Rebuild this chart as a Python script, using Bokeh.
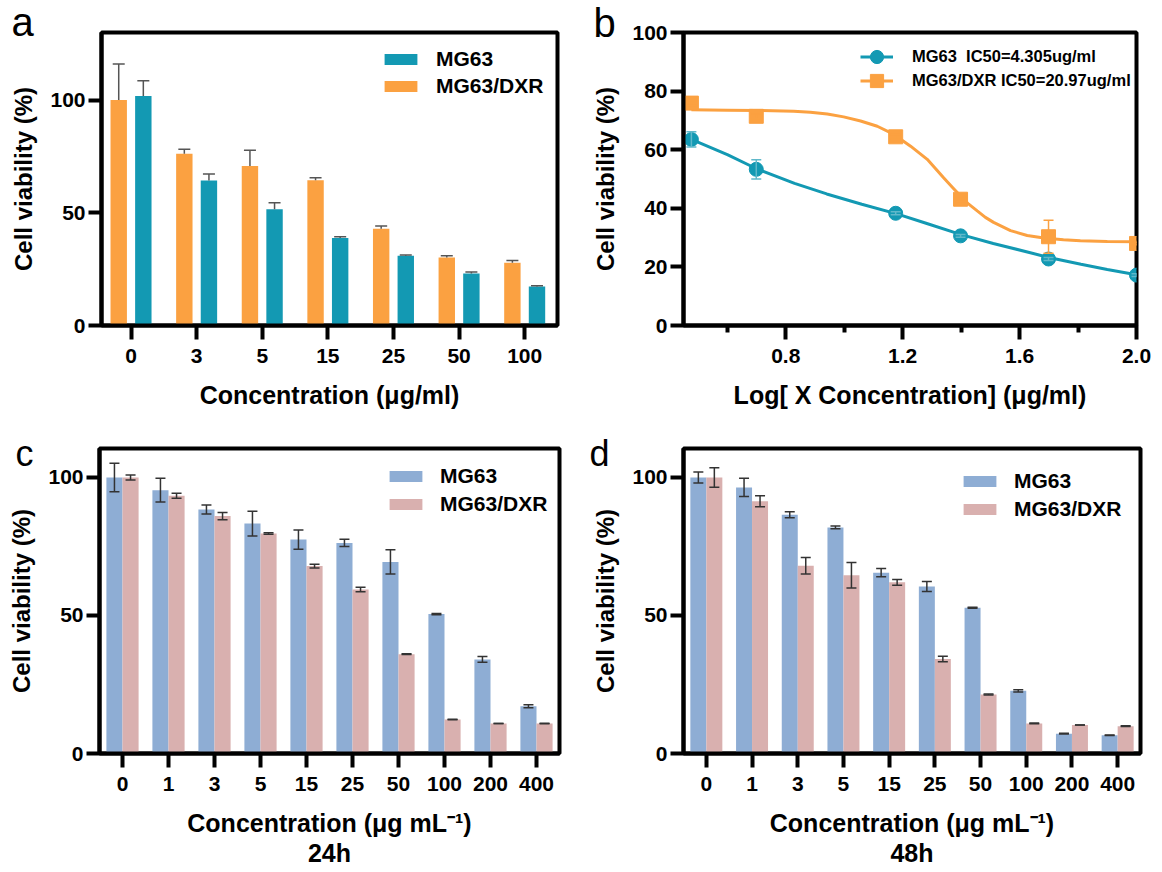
import numpy as np
from bokeh.plotting import figure
from bokeh.core.properties import value
from bokeh.models import (Range1d, FixedTicker, Legend, LegendItem, Whisker, TeeHead,
                          ColumnDataSource, PrintfTickFormatter)
from bokeh.layouts import column, row
from bokeh.embed import file_html
from bokeh.resources import INLINE

# ---------------- data ----------------
# panel a
a_conc = ["0", "3", "5", "15", "25", "50", "100"]
a_mg63 = [101.8, 64.3, 51.6, 38.8, 31.0, 23.1, 17.3]
a_mg63_err = [6.8, 2.9, 2.9, 0.6, 0.3, 0.6, 0.3]
a_dxr = [100.0, 76.2, 70.8, 64.5, 42.9, 30.2, 27.8]
a_dxr_err = [16.0, 2.0, 7.0, 1.0, 1.2, 0.7, 1.0]

# panel b (log10 concentration)
b_logx = [0.477, 0.699, 1.176, 1.398, 1.699, 2.0]
b_mg63 = [63.5, 53.3, 38.3, 30.6, 22.7, 17.2]
b_mg63_err = [2.6, 3.3, 0.5, 0.5, 0.5, 0.5]
b_dxr = [75.9, 71.4, 64.4, 43.1, 30.3, 28.0]
b_dxr_err = [0.8, 0.8, 0.8, 0.8, 5.6, 0.5]
# fitted curves
b_fit_x_mg63 = [0.477, 0.60, 0.70, 0.83, 0.94, 1.06, 1.18, 1.28, 1.40, 1.51, 1.63, 1.70, 1.81, 1.90, 2.0]
b_fit_mg63 = [63.5, 58.3, 53.5, 48.5, 44.9, 41.4, 38.1, 34.9, 31.0, 28.0, 25.0, 23.2, 20.9, 19.1, 17.3]
b_fit_x_dxr = [0.477, 0.60, 0.70, 0.827, 0.884, 0.942, 0.998, 1.056, 1.113, 1.17, 1.227, 1.284,
               1.312, 1.34, 1.369, 1.398, 1.426, 1.455, 1.483, 1.511, 1.569, 1.626, 1.683,
               1.75, 1.808, 1.90, 2.0]
b_fit_dxr = [73.6, 73.5, 73.4, 73.1, 72.8, 72.2, 71.2, 69.8, 68.0, 65.2, 61.2, 56.7,
             53.6, 50.4, 47.3, 44.2, 41.4, 39.1, 36.9, 35.2, 32.4, 30.7, 29.9,
             29.3, 28.9, 28.7, 28.6]
b_labels = ["MG63  IC50=4.305ug/ml", "MG63/DXR IC50=20.97ug/ml"]

# panels c / d
cd_conc = ["0", "1", "3", "5", "15", "25", "50", "100", "200", "400"]
c_mg63 = [100.0, 95.4, 88.4, 83.3, 77.5, 76.3, 69.4, 50.5, 34.1, 17.1]
c_mg63_err = [5.2, 4.3, 1.6, 4.5, 3.5, 1.3, 4.4, 0.2, 1.0, 0.55]
c_dxr = [100.0, 93.4, 86.0, 79.7, 67.9, 59.4, 36.0, 12.3, 10.9, 10.9]
c_dxr_err = [0.9, 0.9, 1.3, 0.3, 0.7, 0.8, 0.1, 0.1, 0.0, 0.1]

d_mg63 = [100.0, 96.4, 86.5, 81.9, 65.5, 60.5, 52.8, 22.7, 7.2, 6.6]
d_mg63_err = [2.0, 3.3, 1.1, 0.5, 1.5, 1.8, 0.15, 0.4, 0.1, 0.1]
d_dxr = [100.0, 91.4, 68.0, 64.6, 62.0, 34.2, 21.4, 10.9, 10.3, 9.9]
d_dxr_err = [3.5, 2.0, 3.0, 4.6, 1.0, 1.0, 0.2, 0.15, 0.0, 0.15]

series_names = ["MG63", "MG63/DXR"]
panel_letters = ["a", "b", "c", "d"]
times = ["24h", "48h"]

# ---------------- style ----------------
FONT = "Liberation Sans"
TEAL = "#1399B3"
ORANGE = "#FBA141"
BLUE = "#8EADD4"
PINK = "#D9B0AF"
ERR = "#333333"


def make_fig(width, height, bl, br, bt, bb, xr, yr):
    p = figure(width=width, height=height, x_range=xr, y_range=yr,
               output_backend="svg", toolbar_location=None,
               min_border_left=bl, min_border_right=br,
               min_border_top=bt, min_border_bottom=bb)
    p.outline_line_color = "black"
    p.outline_line_width = 4
    p.xgrid.visible = False
    p.ygrid.visible = False
    for ax in (p.xaxis[0], p.yaxis[0]):
        ax.axis_line_width = 4
        ax.axis_line_color = "black"
        ax.major_tick_line_width = 4
        ax.major_tick_line_color = "black"
        ax.major_tick_in = 0
        ax.minor_tick_line_color = None
        ax.major_label_text_font = FONT
        ax.major_label_text_font_style = "bold"
        ax.major_label_text_font_size = "21px"
        ax.major_label_text_color = "black"
        ax.axis_label_text_font = FONT
        ax.axis_label_text_font_style = "bold"
        ax.axis_label_text_color = "black"
    p.xaxis.axis_label_text_font_size = "25px"
    p.yaxis.axis_label_text_font_size = "24px"
    p.xaxis.major_tick_out = 14
    p.yaxis.major_tick_out = 13
    p.yaxis.major_label_standoff = 3
    p.xaxis.major_label_standoff = 9
    p.yaxis.axis_label = "Cell viability (%)"
    p.yaxis.axis_label_standoff = 10
    p.xaxis.axis_label_standoff = 15
    return p


def letter(p, text, dx, dy, size="40px", baseline="alphabetic"):
    # panel letter, anchored at the top-left corner of the plot frame
    p.text(x=[p.x_range.start], y=[p.y_range.end], text=[text], x_offset=dx, y_offset=dy,
           text_font=value(FONT), text_font_size=size, text_color="black",
           text_baseline=baseline, text_align="left", level="overlay")


def whisker(p, base, val, err, color, head, lower=True, width=1.5):
    v = np.array(val)
    e = np.array(err)
    src = ColumnDataSource(dict(base=list(base), upper=list(v + e),
                                lower=list(v - e) if lower else list(v)))
    w = Whisker(source=src, base="base", upper="upper", lower="lower",
                dimension="height", line_color=color, line_width=width,
                upper_head=TeeHead(size=head, line_color=color, line_width=width),
                lower_head=TeeHead(size=head, line_color=color, line_width=width) if lower else None,
                level="overlay")
    p.add_layout(w)


def bar_legend(p, r1, r2, loc, standoff, spacing):
    leg = Legend(items=[LegendItem(label=series_names[0], renderers=[r1]),
                        LegendItem(label=series_names[1], renderers=[r2])],
                 location=loc, glyph_width=41, glyph_height=14, label_standoff=standoff,
                 spacing=spacing, padding=0, margin=0, border_line_color=None,
                 background_fill_alpha=0, label_text_font=FONT,
                 label_text_font_style="bold", label_text_font_size="21px",
                 label_height=20, label_text_color="black")
    p.add_layout(leg)


# ---------------- panel a ----------------
na = len(a_conc)
xa = np.arange(na)
pa = make_fig(580, 430, 101, 23, 32, 102, Range1d(-0.45, 6.5), Range1d(0, 130))
pa.yaxis.ticker = FixedTicker(ticks=[0, 50, 100])
pa.xaxis.ticker = FixedTicker(ticks=list(range(na)))
pa.xaxis.major_label_overrides = {i: c for i, c in enumerate(a_conc)}
pa.xaxis.axis_label = "Concentration (μg/ml)"
ra_dxr = pa.vbar(x=xa - 0.1875, top=a_dxr, width=0.25, fill_color=ORANGE, line_color=None)
ra_mg = pa.vbar(x=xa + 0.1875, top=a_mg63, width=0.25, fill_color=TEAL, line_color=None)
whisker(pa, xa - 0.1875, a_dxr, a_dxr_err, "#555555", 12, lower=False)
whisker(pa, xa + 0.1875, a_mg63, a_mg63_err, "#555555", 12, lower=False)
bar_legend(pa, ra_mg, ra_dxr, (279, 227), 15, 3)
letter(pa, panel_letters[0], -90, -11)

# ---------------- panel b ----------------
pb = make_fig(582, 430, 103, 26, 31, 105, Range1d(0.45, 2.0), Range1d(0, 100))
pb.xaxis.ticker = FixedTicker(ticks=[0.8, 1.2, 1.6, 2.0], minor_ticks=[0.6, 1.0, 1.4, 1.8])
pb.xaxis.formatter = PrintfTickFormatter(format="%.1f")
pb.xaxis.minor_tick_line_color = "black"
pb.xaxis.minor_tick_line_width = 4
pb.xaxis.minor_tick_out = 7
pb.xaxis.minor_tick_in = 0
pb.yaxis.ticker = FixedTicker(ticks=[0, 20, 40, 60, 80, 100])
pb.xaxis.axis_label = "Log[ X Concentration] (μg/ml)"
lb_mg = pb.line(b_fit_x_mg63, b_fit_mg63, line_color=TEAL, line_width=3)
lb_dxr = pb.line(b_fit_x_dxr, b_fit_dxr, line_color=ORANGE, line_width=3)
whisker(pb, b_logx, b_mg63, b_mg63_err, "#5FB8CA", 10)
whisker(pb, b_logx, b_dxr, b_dxr_err, ORANGE, 10)
sb_mg = pb.scatter(b_logx, b_mg63, marker="circle", size=14, fill_color=TEAL, line_color=TEAL)
sb_dxr = pb.scatter(b_logx, b_dxr, marker="square", size=14, fill_color=ORANGE, line_color=ORANGE)
for lab, rends, vy in ((b_labels[0], [lb_mg, sb_mg], 251),
                       (b_labels[1], [lb_dxr, sb_dxr], 227)):
    pb.add_layout(Legend(items=[LegendItem(label=lab, renderers=rends)],
                         location=(177, vy), glyph_width=33, glyph_height=35, label_standoff=19,
                         spacing=0, padding=0, margin=0, border_line_color=None,
                         background_fill_alpha=0, label_text_font=FONT,
                         label_text_font_style="bold", label_text_font_size="16.5px",
                         label_height=20, label_text_color="black"))
letter(pb, panel_letters[1], -90, -10)

# ---------------- panels c, d ----------------
ncd = len(cd_conc)
xc = np.arange(ncd)


def make_cd(width, bl, br, mg, mg_err, dxr, dxr_err, loc, t):
    p = make_fig(width, 442, bl, br, 18, 119, Range1d(-0.5, 9.5), Range1d(0, 110.5))
    p.yaxis.ticker = FixedTicker(ticks=[0, 50, 100])
    p.xaxis.ticker = FixedTicker(ticks=list(range(ncd)))
    p.xaxis.major_label_overrides = {i: c for i, c in enumerate(cd_conc)}
    p.xaxis.axis_label = "Concentration (μg mL⁻¹)\n" + t
    p.xaxis.axis_label_text_align = "center"
    p.xaxis.axis_label_text_line_height = 1.1
    r_mg = p.vbar(x=xc - 0.175, top=mg, width=0.35, fill_color=BLUE, line_color=None)
    r_dxr = p.vbar(x=xc + 0.175, top=dxr, width=0.35, fill_color=PINK, line_color=None)
    whisker(p, xc - 0.175, mg, mg_err, ERR, 10)
    whisker(p, xc + 0.175, dxr, dxr_err, ERR, 10)
    bar_legend(p, r_mg, r_dxr, loc, 14, 4)
    return p


pc = make_cd(580, 99, 21, c_mg63, c_mg63_err, c_dxr, c_dxr_err, (286, 237), times[0])
pd_ = make_cd(582, 103, 22, d_mg63, d_mg63_err, d_dxr, d_dxr_err, (276, 232), times[1])
letter(pc, panel_letters[2], -84, -16, "36px", "top")
letter(pd_, panel_letters[3], -94, -16, "36px", "top")

layout = column(row(pa, pb), row(pc, pd_))
open("out.html", "w").write(file_html(layout, INLINE))
